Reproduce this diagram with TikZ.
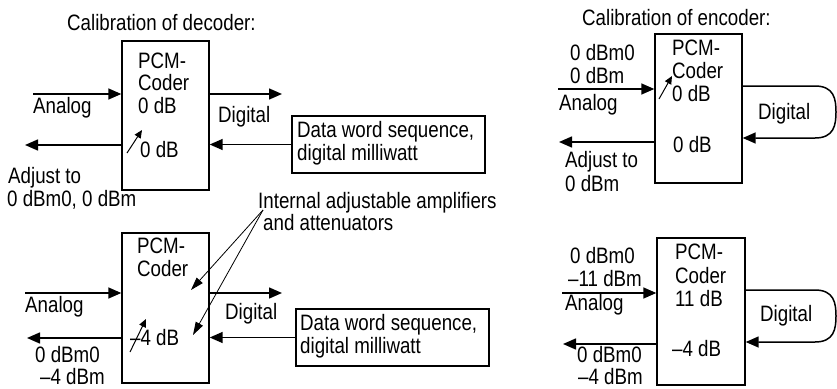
\documentclass[tikz,border=0pt]{standalone}
\usepackage{fontspec}
\setmainfont{Liberation Sans}[FakeStretch=0.84]
\usetikzlibrary{arrows.meta}

\begin{document}
\begin{tikzpicture}[x=1pt, y=-1pt, every node/.style={font=\fontsize{22.3}{23}\selectfont}]
    \tikzset{blk/.style={draw, line width=1.4pt, inner sep=0pt},
        txt/.style={anchor=base west, inner sep=0pt},
        sig/.style={line width=1.5pt, -{Triangle[length=13pt, width=11pt]}},
        adj/.style={line width=1pt, -{Triangle[length=8pt, width=7pt]}},
        note/.style={line width=0.8pt, -{Triangle[length=13pt, width=8pt]}}}
    \useasboundingbox (0,0) rectangle (837,388);
    % calibration of decoder
    \node[txt] (tdec) at (67,30) {Calibration of decoder:};
    \node[blk, minimum width=87pt, minimum height=149pt] (dec) at (165.5,115.5) {};
    \node[txt] (dec1) at (138,68) {PCM-};
    \node[txt] (dec2) at (138,90) {Coder};
    \node[txt] (dec3) at (138,113) {0 dB};
    \node[txt] (dec4) at (140,157) {0 dB};
    \draw[adj] (127,153) -- ++(15,-23);
    \coordinate (decin) at (33,94);
    \coordinate (decout) at (25,145);
    \coordinate (decdig) at (282,94);
    \draw[sig] (decin) -- (decin -| dec.west);
    \draw[sig] (dec.west |- decout) -- (decout);
    \draw[sig] (dec.east |- decdig) -- (decdig);
    \node[txt] (decan) at (33,113) {Analog};
    \node[txt] (decadj1) at (8,183) {Adjust to};
    \node[txt] (decadj2) at (7,206) {0 dBm0, 0 dBm};
    \node[txt] (decdl) at (218,122) {Digital};
    \node[blk, minimum width=193pt, minimum height=57pt] (dwa) at (388.5,144.5) {};
    \node[txt] (dwa1) at (297,137) {Data word sequence,};
    \node[txt] (dwa2) at (297,160) {digital milliwatt};
    \draw[sig] (dwa.west) -- (dwa.west -| dec.east);
    % calibration of encoder
    \node[txt] (tenc) at (582,25) {Calibration of encoder:};
    \node[blk, minimum width=87pt, minimum height=149pt] (enc) at (698.5,108.5) {};
    \node[txt] (enc1) at (672,55) {PCM-};
    \node[txt] (enc2) at (672,78) {Coder};
    \node[txt] (enc3) at (672,101) {0 dB};
    \node[txt] (enc4) at (673,152) {0 dB};
    \draw[adj] (659,99) -- ++(13,-23);
    \node[txt] (enclv1) at (570,60) {0 dBm0};
    \node[txt] (enclv2) at (570,83) {0 dBm};
    \node[txt] (encan) at (559,110) {Analog};
    \node[txt] (encadj1) at (565,167) {Adjust to};
    \node[txt] (encadj2) at (565,191) {0 dBm};
    \coordinate (encin) at (558,89);
    \coordinate (encout) at (559,142);
    \coordinate (enca) at (815,86);
    \coordinate (encb) at (815,138);
    \draw[sig] (encin) -- (encin -| enc.west);
    \draw[sig] (enc.west |- encout) -- (encout);
    \draw[sig] (enc.east |- enca) -- (enca) .. controls (834,86) and (836,99) .. (836,112)
        .. controls (836,125) and (834,138) .. (encb) -- (enc.east |- encb);
    \node[txt] (encdl) at (758,119) {Digital};
    % decoder, adjusted
    \node[txt] (int1) at (258,208) {Internal adjustable amplifiers};
    \node[txt] (int2) at (263,230) {and attenuators};
    \node[blk, minimum width=87pt, minimum height=150pt] (dcb) at (165.5,308) {};
    \node[txt] (dcb1) at (137,253) {PCM-};
    \node[txt] (dcb2) at (137,276) {Coder};
    \node[txt] (dcb3) at (130,345) {--4 dB};
    \draw[adj] (130,352) -- ++(16,-33);
    \coordinate (dcbin) at (25,293);
    \coordinate (dcbout) at (27,338);
    \coordinate (dcbdig) at (282,293);
    \draw[sig] (dcbin) -- (dcbin -| dcb.west);
    \draw[sig] (dcb.west |- dcbout) -- (dcbout);
    \draw[sig] (dcb.east |- dcbdig) -- (dcbdig);
    \node[txt] (dcban) at (25,312) {Analog};
    \node[txt] (dcblv1) at (35,362) {0 dBm0};
    \node[txt] (dcblv2) at (40,384) {--4 dBm};
    \node[txt] (dcbdl) at (225,319) {Digital};
    \node[blk, minimum width=193pt, minimum height=57pt] (dwb) at (392.5,337.5) {};
    \node[txt] (dwb1) at (300,330) {Data word sequence,};
    \node[txt] (dwb2) at (300,353) {digital milliwatt};
    \draw[sig] (dwb.west) -- (dwb.west -| dcb.east);
    \coordinate (ann) at (263,210);
    \coordinate (anna) at (191,290);
    \coordinate (annb) at (193,335);
    \draw[note] (ann) -- (anna);
    \draw[note] (ann) -- (annb);
    % encoder, adjusted
    \node[blk, minimum width=88pt, minimum height=147pt] (ecb) at (701,311.5) {};
    \node[txt] (ecb1) at (675,259) {PCM-};
    \node[txt] (ecb2) at (675,283) {Coder};
    \node[txt] (ecb3) at (675,306) {11 dB};
    \node[txt] (ecb4) at (672,356) {--4 dB};
    \node[txt] (ecblv1) at (570,263) {0 dBm0};
    \node[txt] (ecblv2) at (568,286) {--11 dBm};
    \node[txt] (ecban) at (565,310) {Analog};
    \node[txt] (ecblv3) at (577,362) {0 dBm0};
    \node[txt] (ecblv4) at (578,384) {--4 dBm};
    \coordinate (ecbin) at (562,293);
    \coordinate (ecbout) at (563,344);
    \coordinate (ecba) at (815,290);
    \coordinate (ecbb) at (815,342);
    \draw[sig] (ecbin) -- (ecbin -| ecb.west);
    \draw[sig] (ecb.west |- ecbout) -- (ecbout);
    \draw[sig] (ecb.east |- ecba) -- (ecba) .. controls (834,290) and (836,303) .. (836,316)
        .. controls (836,329) and (834,342) .. (ecbb) -- (ecb.east |- ecbb);
    \node[txt] (ecbdl) at (760,321) {Digital};
\end{tikzpicture}
\end{document}
